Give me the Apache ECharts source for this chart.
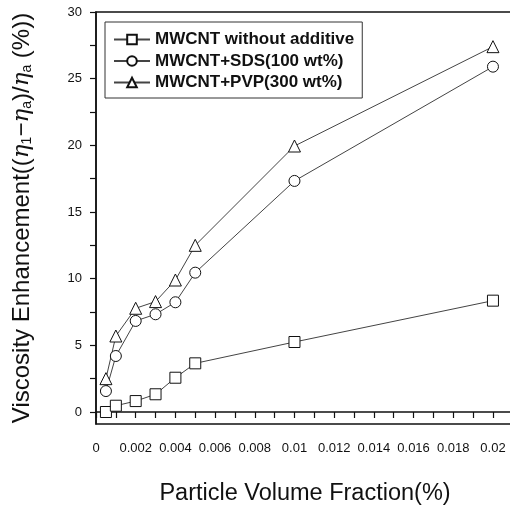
<!DOCTYPE html>
<html>
<head>
<meta charset="utf-8">
<script src="https://cdn.jsdelivr.net/npm/echarts@6/dist/echarts.min.js"></script>
<style>
  html, body { margin: 0; padding: 0; background: #fff; }
  #chart { width: 510px; height: 507px; }
</style>
</head>
<body>
<div id="chart"></div>
<script>
// particle volume fraction (%)
var fractions = [0.0005, 0.001, 0.002, 0.003, 0.004, 0.005, 0.01, 0.02];
// viscosity enhancement (%)
var noAdditive = [0.0, 0.47, 0.82, 1.33, 2.57, 3.65, 5.25, 8.35];
var withSDS = [1.57, 4.2, 6.83, 7.33, 8.23, 10.45, 17.33, 25.9];
var withPVP = [2.5, 5.7, 7.78, 8.28, 9.9, 12.5, 19.95, 27.4];

var seriesNames = ["MWCNT without additive", "MWCNT+SDS(100 wt%)", "MWCNT+PVP(300 wt%)"];

var xTicks = [0, 0.001, 0.002, 0.003, 0.004, 0.005, 0.006, 0.007, 0.008, 0.009, 0.01,
  0.011, 0.012, 0.013, 0.014, 0.015, 0.016, 0.017, 0.018, 0.019, 0.02];
var xLabels = [0, 0.002, 0.004, 0.006, 0.008, 0.01, 0.012, 0.014, 0.016, 0.018, 0.02];
var yTicks = [0, 2.5, 5, 7.5, 10, 12.5, 15, 17.5, 20, 22.5, 25, 27.5, 30];
var yLabels = [0, 5, 10, 15, 20, 25, 30];

function pairs(ys) {
  return fractions.map(function (x, i) { return [x, ys[i]]; });
}

function lineSeries(name, ys, symbol) {
  return {
    name: name,
    type: "line",
    data: pairs(ys),
    symbol: symbol,
    symbolSize: symbol === "triangle" ? 12 : 11,
    lineStyle: { color: "#444", width: 1 },
    itemStyle: { color: "#fff", borderColor: "#111", borderWidth: 1 },
    emphasis: { disabled: true },
    z: 3
  };
}

var chart = echarts.init(document.getElementById("chart"));

var option = {
  animation: false,
  backgroundColor: "#fff",
  grid: {
    left: 96, top: 12, right: -4, bottom: 83,
    outerBoundsMode: "none",
    show: true, borderColor: "#111", borderWidth: 1.5
  },
  legend: {
    orient: "vertical",
    left: 105, top: 22,
    padding: [9, 8, 7, 8],
    itemGap: 4.5,
    itemWidth: 36, itemHeight: 12,
    borderColor: "#333", borderWidth: 1,
    textStyle: { fontFamily: "Liberation Sans, Arial", fontWeight: "bold", fontSize: 17, color: "#111" },
    data: seriesNames
  },
  xAxis: {
    type: "value",
    min: 0, max: 0.02106,
    name: "Particle Volume Fraction(%)",
    nameLocation: "middle",
    nameGap: 58,
    nameTextStyle: { fontFamily: "Liberation Sans, Arial", fontSize: 23.5, color: "#111" },
    axisLine: { lineStyle: { color: "#111", width: 1.5 } },
    axisTick: { show: true, inside: false, length: 6, customValues: xTicks, lineStyle: { color: "#111", width: 1.2 } },
    axisLabel: {
      customValues: xLabels, margin: 18, color: "#111",
      fontFamily: "Liberation Sans, Arial", fontSize: 13,
      formatter: function (v) { return String(v); }
    },
    splitLine: { show: false }
  },
  yAxis: {
    type: "value",
    min: -0.9, max: 30,
    name: "Viscosity Enhancement(({e|η}{s|1}−{e|η}{s|a})/{e|η}{s|a} (%))",
    nameLocation: "middle",
    nameGap: 62,
    nameRotate: 90,
    nameTextStyle: {
      fontFamily: "Liberation Sans, Arial", fontSize: 24, color: "#111",
      rich: {
        e: { fontFamily: "DejaVu Serif", fontStyle: "italic", fontSize: 23, color: "#111" },
        s: { fontFamily: "Liberation Sans, Arial", fontSize: 14, color: "#111", verticalAlign: "bottom", padding: [10, 0, 0, 0] }
      }
    },
    axisLine: { show: true, lineStyle: { color: "#111", width: 1.5 } },
    axisTick: { show: true, inside: false, length: 6, customValues: yTicks, lineStyle: { color: "#111", width: 1.2 } },
    axisLabel: {
      customValues: yLabels, margin: 14, color: "#111",
      fontFamily: "Liberation Sans, Arial", fontSize: 13
    },
    splitLine: { show: false }
  },
  series: [
    lineSeries(seriesNames[0], noAdditive, "rect"),
    lineSeries(seriesNames[1], withSDS, "circle"),
    lineSeries(seriesNames[2], withPVP, "triangle")
  ]
};

chart.setOption(option);
</script>
</body>
</html>
